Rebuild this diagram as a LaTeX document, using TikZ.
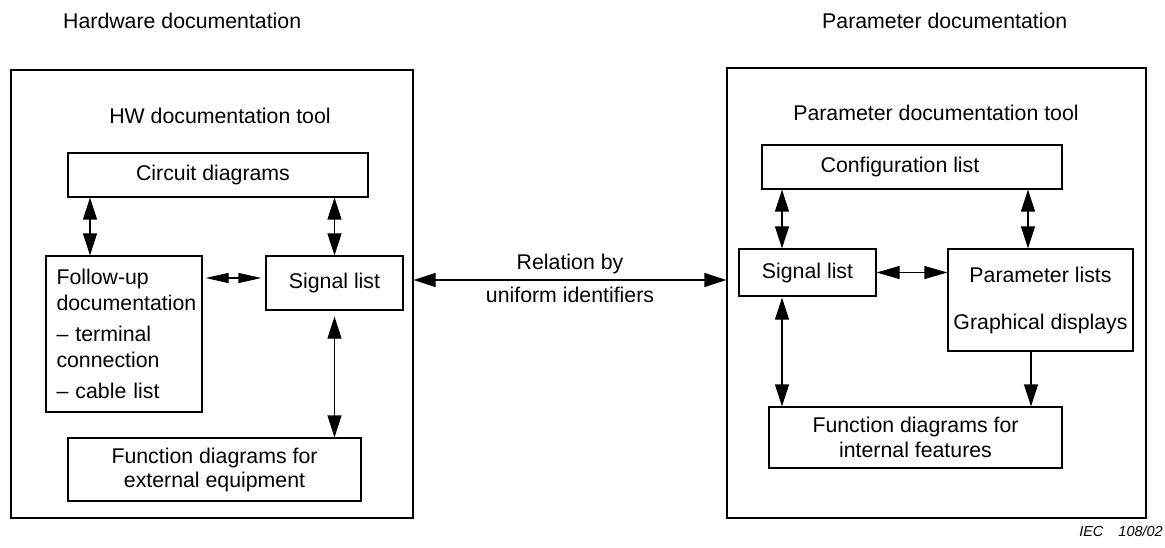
\documentclass[tikz,border=0pt]{standalone}
\usepackage{fontspec}
\setmainfont{Liberation Sans}
\usetikzlibrary{arrows.meta}
\begin{document}
\begin{tikzpicture}[x=1pt,y=-1pt,
  txt/.style={font=\fontsize{21.3pt}{26pt}\selectfont, text=black, inner sep=0pt},
  box/.style={txt, draw, line width=1.2pt, align=center},
  frame/.style={draw, line width=1.2pt, inner sep=0pt},
  link/.style={line width=1.2pt, {Triangle[length=22pt,width=14pt]}-{Triangle[length=22pt,width=14pt]}},
  slimlink/.style={line width=1.2pt, {Triangle[length=23pt,width=10pt]}-{Triangle[length=23pt,width=10pt]}},
  widelink/.style={line width=1.2pt, {Triangle[length=23pt,width=13pt]}-{Triangle[length=23pt,width=13pt]}},
  onelink/.style={line width=1.2pt, -{Triangle[length=22pt,width=14pt]}}]
\useasboundingbox (0,0) rectangle (1165,548);

% headings above the two tool frames
\node[txt, anchor=base west] (hwhead) at (63,29) {Hardware documentation};
\node[txt, anchor=base west] (parhead) at (822,29) {Parameter documentation};

% ---------- hardware side ----------
\node[frame, minimum width=402pt, minimum height=448pt] (hwtool) at (212,294) {};
\node[txt] (hwtitle) at (220,116) {HW documentation tool};
\node[box, minimum width=300pt, minimum height=44pt] (circ) at (218,175) {\hspace*{-10pt}Circuit diagrams};
\node[box, minimum width=156pt, minimum height=156pt, text width=135pt, align=left] (fol) at (124,334)
  {Follow-up\\documentation\\[5pt]– terminal\\connection\\[5pt]– cable list};
\node[box, minimum width=137pt, minimum height=54pt] (sigL) at (334.5,283) {Signal list};
\node[box, minimum width=293pt, minimum height=63pt, font=\fontsize{21.3pt}{24pt}\selectfont] (funE) at (214.5,469.5)
  {Function diagrams for\\external equipment};

% guide coordinates for connector columns and rows
\coordinate (colA) at (90,0);
\coordinate (rowA) at (0,278);
\coordinate (rel) at (570,280);
\coordinate (colB) at (782,0);
\coordinate (colC) at (1028,0);
\coordinate (colD) at (1031,0);

\draw[link] (circ.south -| colA) -- (fol.north -| colA);
\draw[link] (circ.south -| sigL.north) -- (sigL.north);
\draw[slimlink, shorten <=3pt, shorten >=4pt] (fol.east |- rowA) -- (sigL.west |- rowA);
\draw[link, shorten <=6pt] (sigL.south) -- (funE.north -| sigL.south);

% ---------- parameter side ----------
\node[frame, minimum width=419pt, minimum height=450pt] (partool) at (936.5,293) {};
\node[txt] (partitle) at (936,112.5) {Parameter documentation tool};
\node[box, minimum width=300pt, minimum height=44pt] (conf) at (912,167) {\hspace*{-24pt}Configuration list};
\node[box, minimum width=137pt, minimum height=47pt] (sigR) at (807.5,272.5) {Signal list};
\node[box, minimum width=185pt, minimum height=102pt] (par) at (1040.5,300)
  {Parameter lists\\[21pt]Graphical displays};
\node[box, minimum width=293pt, minimum height=61pt, font=\fontsize{21.3pt}{25pt}\selectfont] (funI) at (915.5,437.5)
  {Function diagrams for\\internal features};

\draw[link] (conf.south -| colB) -- (sigR.north -| colB);
\draw[link] (conf.south -| colC) -- (par.north -| colC);
\draw[widelink] (sigR.east) -- (sigR.east -| par.west);
\draw[link, shorten <=1pt] (sigR.south -| colB) -- (funI.north -| colB);
\draw[onelink] (par.south -| colD) -- (funI.north -| colD);

% ---------- relation between the two tools ----------
\draw[link]
  (hwtool.east |- rel) --
  node[txt, above, inner sep=5.5pt] (relA) {Relation by}
  node[txt, below, inner sep=6.5pt] (relB) {uniform identifiers}
  (partool.west |- rel);

% figure reference
\node[txt, anchor=base east, font=\fontsize{14.5pt}{16pt}\selectfont\itshape] (iec) at (1163,536) {IEC\hspace{15pt}108/02};
\end{tikzpicture}
\end{document}
